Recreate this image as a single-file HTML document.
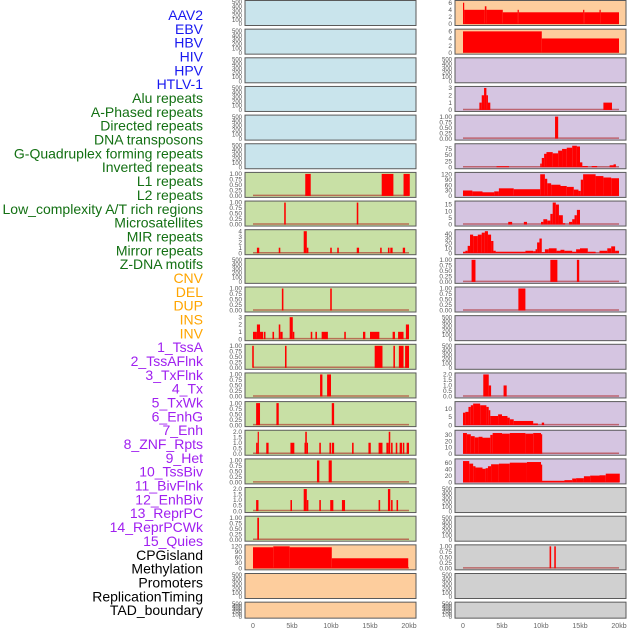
<!DOCTYPE html>
<html><head><meta charset="utf-8">
<style>
html,body{margin:0;padding:0;background:#fff;width:630px;height:630px;overflow:hidden}
svg text{font-family:"Liberation Sans",sans-serif}
</style></head>
<body>
<svg id="chart" width="630" height="630" xmlns="http://www.w3.org/2000/svg"></svg>
<script>
// ---- data: track labels ----
const labelNames = ["AAV2","EBV","HBV","HIV","HPV","HTLV-1","Alu repeats","A-Phased repeats","Directed repeats","DNA transposons","G-Quadruplex forming repeats","Inverted repeats","L1 repeats","L2 repeats","Low_complexity A/T rich regions","Microsatellites","MIR repeats","Mirror repeats","Z-DNA motifs","CNV","DEL","DUP","INS","INV","1_TssA","2_TssAFlnk","3_TxFlnk","4_Tx","5_TxWk","6_EnhG","7_Enh","8_ZNF_Rpts","9_Het","10_TssBiv","11_BivFlnk","12_EnhBiv","13_ReprPC","14_ReprPCWk","15_Quies","CPGisland","Methylation","Promoters","ReplicationTiming","TAD_boundary"];
const labelGroups = [0,0,0,0,0,0,1,1,1,1,1,1,1,1,1,1,1,1,1,2,2,2,2,2,3,3,3,3,3,3,3,3,3,3,3,3,3,3,3,4,4,4,4,4];
const xTickValues = [0,5,10,15,20];
const xTickLabels = ["0","5kb","10kb","15kb","20kb"];

// ---- data: left column segments [startKb, endKb, value] ----
const L7 = [[6.7,7.4,1],[16.5,18.0,1],[19.3,20.1,1]];
const L8 = [[4.0,4.2,1],[13.3,13.5,1]];
const L9 = [[0.5,0.8,1],[3.3,3.5,1],[6.5,6.9,4],[6.9,7.1,1],[9.9,10.1,1],[10.8,11.0,1],[13.3,13.6,1],[16.3,16.5,1],[17.3,17.5,1],[17.6,17.9,1],[19.2,19.5,1]];
const L11 = [[3.7,3.9,1],[9.9,10.1,1]];
const L12 = [[0,0.5,1],[0.5,0.9,2],[0.9,1.3,1],[1.4,1.6,1],[2.5,2.7,1],[3.3,3.5,2],[3.5,3.8,1],[4.7,5.1,3],[5.1,5.3,1],[7.4,7.6,1],[8.0,8.2,1],[8.8,9.6,1],[11.7,11.9,1],[14.1,14.4,1],[15.0,16.2,1],[17.9,18.2,1],[18.6,19.3,1],[19.6,20.0,2]];
const L13 = [[-0.1,0.1,1],[4.1,4.3,1],[15.6,16.6,1],[18.0,18.2,1],[18.7,19.3,1],[19.5,20.0,1]];
const L14 = [[8.6,8.9,1],[9.5,10.0,1]];
const L15 = [[0.4,0.9,1],[3.0,3.3,1],[10.1,10.4,1]];
const L16 = [[0.4,0.6,1],[0.6,0.7,2],[1.7,2.0,1],[4.8,5.3,1],[6.6,6.7,1],[6.7,6.9,2],[6.9,7.0,1],[8.5,8.7,1],[9.8,10.0,1],[10.1,10.4,1],[12.7,12.9,1],[14.8,15.1,1],[16.1,16.6,1],[17.1,17.4,1],[17.4,17.6,2],[17.7,17.9,1],[18.3,18.5,1],[18.8,19.1,1],[19.2,19.4,1],[19.7,20.0,1]];
const L17 = [[8.2,8.5,1],[9.7,10.1,1]];
const L18 = [[0.4,0.7,1],[4.8,5.0,1],[6.5,6.9,2],[6.9,7.1,1],[8.5,8.7,1],[9.9,10.3,1],[11.4,11.8,1],[16.1,16.3,1],[17.3,17.6,2],[17.7,17.9,1],[18.4,18.6,1]];
const L19 = [[0.55,0.77,1]];
const L20 = [[0,2.6,115],[2.6,4.7,120],[4.7,10.1,115],[10.1,19.9,55]];

// ---- data: right column segments ----
const R1 = [[0,0.15,6],[0.15,2.8,4],[2.8,3.0,5],[3.0,5.1,4],[5.1,7.0,3.3],[7.0,7.15,4],[7.15,15.4,3.3],[15.4,15.55,4],[15.55,17.5,3.3],[17.5,17.65,4],[17.65,20.0,3.3]];
const R2 = [[0,10.1,6],[10.1,20.0,4]];
const R4 = [[2.1,2.4,1],[2.4,2.7,2],[2.7,3.0,3],[3.0,3.2,2],[3.2,3.5,1],[18.0,19.1,1]];
const R5 = [[11.8,12.2,1]];
const R6 = [[4.3,5.9,4],[9.9,10.1,15],[10.1,10.4,38],[10.4,10.7,55],[10.7,11.5,62],[11.5,12.2,57],[12.2,12.7,68],[12.7,13.3,75],[13.3,14.0,80],[14.0,14.6,88],[14.6,15.0,85],[15.0,15.3,20],[15.3,16.0,5],[16.5,17.2,5],[18.8,19.3,8],[19.3,19.6,12]];
const R7 = [[0,1.2,30],[1.2,2.5,25],[2.5,4.0,20],[4.0,4.6,25],[4.6,6.5,42],[6.5,9.9,37],[9.9,10.5,120],[10.5,10.8,95],[10.8,11.3,70],[11.3,12.5,62],[12.5,13.3,55],[13.3,14.2,50],[14.2,14.8,35],[14.8,15.1,28],[15.1,15.4,90],[15.4,17.0,120],[17.0,18.0,110],[18.0,19.0,102],[19.0,20.0,98]];
const R8 = [[5.8,6.3,2],[7.8,8.2,2],[10.0,10.3,2],[10.3,10.8,4],[10.8,11.2,3],[11.2,11.5,8],[11.5,11.9,16.5],[11.9,12.3,15],[12.3,12.8,7],[12.8,13.1,1],[13.6,14.0,2],[14.0,14.3,4],[14.3,14.6,7],[14.6,15.0,11]];
const R9 = [[0,0.3,3],[0.3,0.6,5],[0.6,0.9,15],[0.9,1.3,38],[1.3,1.9,35],[1.9,2.4,38],[2.4,2.8,42],[2.8,3.2,45],[3.2,3.6,38],[3.6,3.9,25],[3.9,4.2,5],[4.2,8.0,3],[8.0,9.0,5],[9.0,9.3,4],[9.3,9.5,8],[9.5,9.8,22],[9.8,10.1,30],[10.1,10.5,2],[10.5,11.0,8],[11.0,12.0,10],[12.0,12.5,5],[12.5,13.0,7],[13.0,14.0,5],[14.0,14.5,3],[14.5,15.0,8],[15.0,16.0,10],[16.0,17.0,3],[17.5,18.5,5],[18.5,19.0,10],[19.0,19.5,14],[19.5,20.0,5]];
const R10 = [[1.1,1.6,1],[11.2,12.1,1],[14.6,14.9,1]];
const R11 = [[7.1,8.0,1]];
const R14 = [[2.6,3.3,2],[3.3,3.6,1],[5.2,5.6,1]];
const R15 = [[0,0.3,7.5],[0.3,0.7,8],[0.7,1.0,11],[1.0,1.3,12],[1.3,2.2,13],[2.2,3.0,12],[3.0,3.3,11],[3.3,3.5,9],[3.5,4.5,5.5],[4.5,5.0,6.5],[5.0,5.7,5.5],[5.7,6.0,4.5],[6.0,6.5,3.5],[6.5,9.0,2.5],[9.0,9.6,1],[10.1,10.4,1.5]];
const R16 = [[0,0.5,33],[0.5,1.0,31],[1.0,1.5,28],[1.5,2.0,26],[2.0,2.5,27],[2.5,3.5,25.5],[3.5,3.8,30],[3.8,5.0,33],[5.0,6.0,32],[6.0,8.0,33],[8.0,9.0,32],[9.0,10.0,33],[10.0,10.1,31]];
const R17 = [[0,0.8,66],[0.8,1.3,58],[1.3,1.6,50],[1.6,2.5,46],[2.5,2.9,42],[2.9,3.2,44],[3.2,3.6,50],[3.6,4.6,56],[4.6,6.0,58],[6.0,8.2,61],[8.2,10.0,63],[10.0,10.1,55],[10.1,13.0,5],[13.0,14.0,7],[14.0,14.5,12],[14.5,15.5,13],[15.5,16.3,19],[16.3,17.5,21],[17.5,18.3,22],[18.3,20.1,27]];
const R20 = [[11.1,11.3,1],[11.7,11.9,1]];

// ---- panel definitions: [column, row, bgKey, ymax, tickSet, segments] ----
const T500=[0,100,200,300,400,500], T1=[0,0.25,0.5,0.75,1], T2=[0,0.5,1,1.5,2];
const panels = [
 [0,0,"b",500,T500,null],[0,1,"b",500,T500,null],[0,2,"b",500,T500,null],[0,3,"b",500,T500,null],[0,4,"b",500,T500,null],[0,5,"b",500,T500,null],
 [0,6,"g",1,T1,L7],[0,7,"g",1,T1,L8],[0,8,"g",4,[0,1,2,3,4],L9],[0,9,"g",500,T500,null],[0,10,"g",1,T1,L11],[0,11,"g",3,[0,1,2,3],L12],
 [0,12,"g",1,T1,L13],[0,13,"g",1,T1,L14],[0,14,"g",1,T1,L15],[0,15,"g",2,T2,L16],[0,16,"g",1,T1,L17],[0,17,"g",2,T2,L18],[0,18,"g",1,T1,L19],
 [0,19,"o",120,[0,30,60,90,120],L20],[0,20,"o",500,T500,null],[0,21,"o",500,T500,null],
 [1,0,"o",6.2,[0,2,4,6],R1],[1,1,"o",6.2,[0,2,4,6],R2],[1,2,"p",500,T500,null],[1,3,"p",3,[0,1,2,3],R4],[1,4,"p",1,T1,R5],[1,5,"p",90,[0,25,50,75],R6],
 [1,6,"p",122,[0,30,60,90,120],R7],[1,7,"p",16.5,[0,5,10,15],R8],[1,8,"p",45,[0,10,20,30,40],R9],[1,9,"p",1,T1,R10],[1,10,"p",1,T1,R11],
 [1,11,"p",500,T500,null],[1,12,"p",500,T500,null],[1,13,"p",2,T2,R14],[1,14,"p",13.3,[0,5,10],R15],[1,15,"p",35,[0,10,20,30],R16],[1,16,"p",68,[0,20,40,60],R17],
 [1,17,"gr",500,T500,null],[1,18,"gr",500,T500,null],[1,19,"gr",1,T1,R20],[1,20,"gr",500,T500,null],[1,21,"gr",500,T500,null]
];

const NS="http://www.w3.org/2000/svg";
const svg=document.getElementById('chart');
const bgColors={b:"#c9e4ec",g:"#c8e0a5",o:"#fdcd9d",p:"#d5c5e1",gr:"#d0d0d0"};
const groupColors=["#1818f0","#137013","#ffa500","#a020f0","#000000"];
const colLeft=[245,455], colWidth=171;
function xScale(col,kb){return colLeft[col]+8+kb*7.8;}
function rowTop(r){return 0.5+r*28.65;}
function rowH(r){return r===21?16:25;}
function mk(tag,attrs){const e=document.createElementNS(NS,tag);for(const k in attrs)e.setAttribute(k,attrs[k]);return e;}
function fmt(v,ts){const dec=ts.some(t=>t%1!==0)?(ts.some(t=>(t*10)%1!==0)?2:1):0;return v.toFixed(dec);}

// labels
labelNames.forEach((n,i)=>{
  const t=mk('text',{x:203,y:(15+i*13.84+5).toFixed(1),'text-anchor':'end','font-size':'14',fill:groupColors[labelGroups[i]]});
  
  
  t.textContent=n;svg.appendChild(t);
});

// panels
panels.forEach(p=>{
  const [col,row,bg,ymax,ticks,segs]=p;
  const top=rowTop(row),h=rowH(row),x0=colLeft[col];
  const yB=top+h-1.5,yT=top+1.5;
  const yScale=v=>yB-(Math.min(v,ymax)/ymax)*(yB-yT);
  const g=mk('g',{});
  
  
  const r=mk('rect',{x:x0,y:top,width:colWidth,height:h,fill:bgColors[bg],stroke:'#5a5a5a','stroke-width':1});
  
  
  g.appendChild(r);
  ticks.forEach(tv=>{
    const t=mk('text',{x:x0-3,y:(yScale(tv)+2.2).toFixed(1),'text-anchor':'end','font-size':(ticks===T500?'6':'6.5'),fill:'#555'});
    
    
    t.textContent=fmt(tv,ticks);g.appendChild(t);
  });
  if(segs){
    const bl=mk('line',{x1:xScale(col,0),x2:xScale(col,20),y1:yB-0.5,y2:yB-0.5,stroke:'rgba(170,20,20,0.55)','stroke-width':1.5});
    
    
    g.appendChild(bl);
    segs.forEach(s=>{
      const xa=xScale(col,s[0]),xb=xScale(col,s[1]),yv=yScale(s[2]);
      const b=mk('rect',{x:xa.toFixed(2),y:yv.toFixed(2),width:Math.max(1.2,xb-xa).toFixed(2),height:(yB-yv).toFixed(2),fill:'#ff0000'});
      
      
      g.appendChild(b);
    });
  }
  svg.appendChild(g);
});

// x axes
[0,1].forEach(col=>{
  xTickValues.forEach((v,i)=>{
    const t=mk('text',{x:xScale(col,v),y:628,'text-anchor':'middle','font-size':'7',fill:'#666'});
    
    
    t.textContent=xTickLabels[i];svg.appendChild(t);
  });
});
</script>
</body></html>
